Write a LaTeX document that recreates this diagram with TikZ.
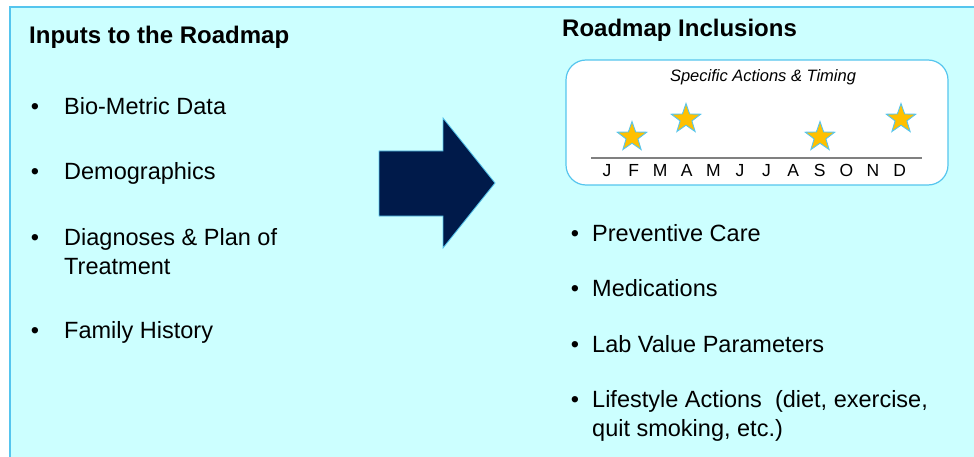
\documentclass[tikz,border=0pt]{standalone}
\usepackage{fontspec}
\setmainfont{Liberation Sans}
\usetikzlibrary{shapes.geometric}
\definecolor{bgcyan}{HTML}{CCFFFF}
\definecolor{edgeblue}{HTML}{55C5EE}
\definecolor{navy}{HTML}{001A4A}
\definecolor{gold}{HTML}{FFC000}
\definecolor{axisgray}{HTML}{808080}
\tikzset{
  heading/.style={anchor=base west, inner sep=0pt, font=\fontsize{24}{28}\selectfont\bfseries},
  item/.style={anchor=base west, inner sep=0pt, font=\fontsize{23.5}{28}\selectfont},
  bul/.style={anchor=base, inner sep=0pt, font=\fontsize{23.5}{28}\selectfont},
  month/.style={anchor=base, inner sep=0pt, font=\fontsize{17.5}{20}\selectfont},
  starmark/.style={star, star points=5, star point ratio=2.5, minimum size=31pt, inner sep=0pt, fill=gold, draw=edgeblue, line width=0.9pt},
}
\begin{document}
\begin{tikzpicture}[x=1pt,y=-1pt]
\useasboundingbox (0,0) rectangle (974,457);
\clip (0,0) rectangle (974,457);
% background panel
\draw[fill=bgcyan, draw=edgeblue, line width=1.5pt] (10,7) rectangle (990,470);
% headings
\node[heading] (hin) at (29,44) {Inputs to the Roadmap};
\node[heading] (hout) at (562,37) {Roadmap Inclusions};
% left bullets
\foreach \y/\t [count=\i] in {115/Bio-Metric Data, 180/Demographics, 245/Diagnoses \& Plan of, 338/Family History}{
  \node[bul] (lb\i) at (35,\y) {•};
  \node[item] (lt\i) at (64,\y) {\t};
}
\node[item] (lt5) at (64,274) {Treatment};
% arrow
\draw[fill=navy, draw=edgeblue, line width=0.8pt] (379,151) -- (443,151) -- (443,118) -- (495,183) -- (443,248) -- (443,216) -- (379,216) -- cycle;
% timing box
\node[draw=edgeblue, line width=1.2pt, fill=white, rounded corners=20pt, minimum width=382pt, minimum height=125pt, inner sep=0pt] (tbox) at (757,122.5) {};
\node[anchor=base, inner sep=0pt, font=\fontsize{16.5}{20}\selectfont\itshape] (ttl) at (763,82) {Specific Actions \& Timing};
\coordinate (axl) at (591,158);
\coordinate (axr) at (922,158);
\draw[axisgray, line width=1.5pt] (axl) -- (axr);
\foreach \m [count=\i from 0] in {J,F,M,A,M,J,J,A,S,O,N,D}{
  \node[month] (m\i) at ({607+26.6*\i},177) {\m};
}
\node[starmark] (s1) at (632,137) {};
\node[starmark] (s2) at (686,119) {};
\node[starmark] (s3) at (820,137) {};
\node[starmark] (s4) at (901,119) {};
% right bullets
\foreach \y/\t [count=\i] in {241/Preventive Care, 296/Medications, 352/Lab Value Parameters, 407/{Lifestyle Actions\ \ (diet, exercise,}}{
  \node[bul] (rb\i) at (575,\y) {•};
  \node[item] (rt\i) at (592,\y) {\t};
}
\node[item] (rt5) at (592,436) {quit smoking, etc.)};
\end{tikzpicture}
\end{document}
